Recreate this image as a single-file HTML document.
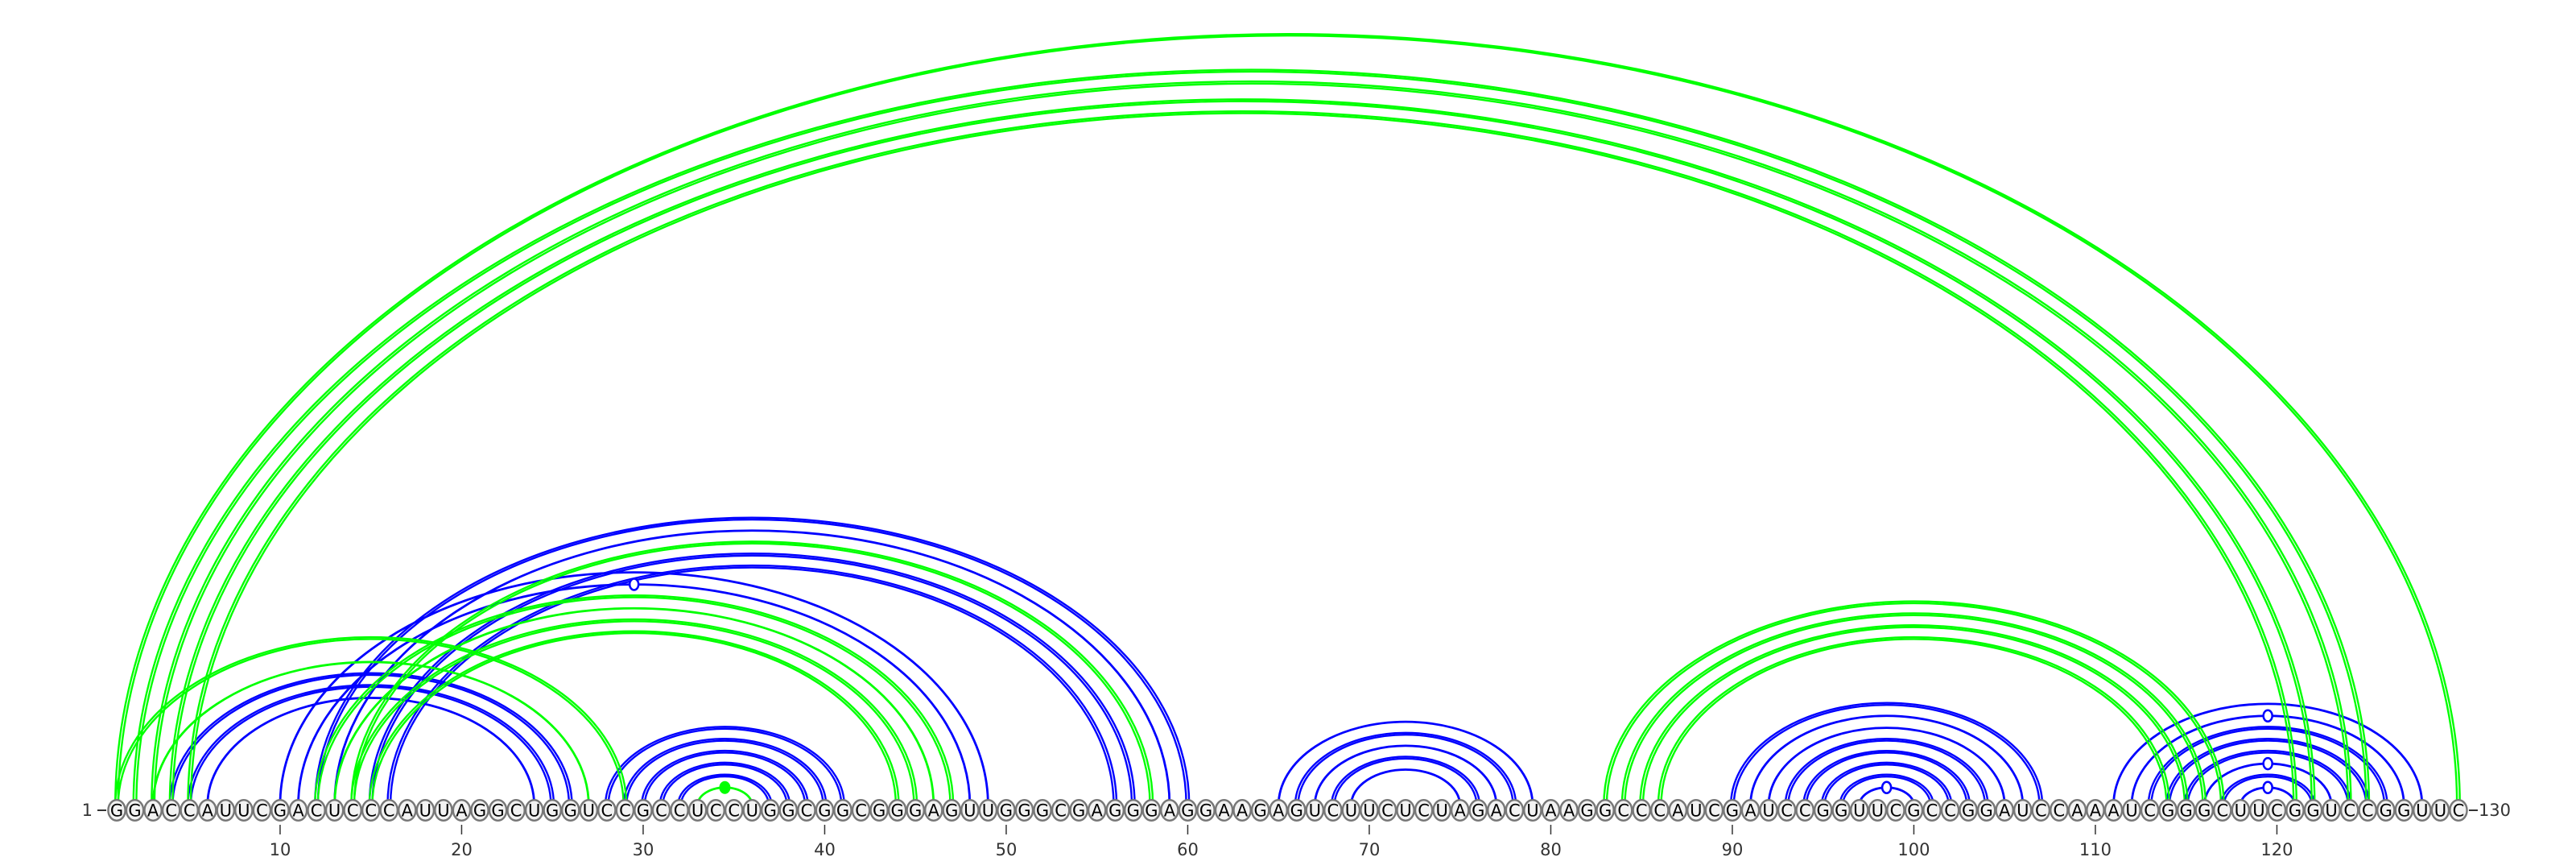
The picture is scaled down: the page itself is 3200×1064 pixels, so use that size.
<!DOCTYPE html>
<html><head><meta charset="utf-8"><title>RNA arc diagram</title>
<style>
html,body{margin:0;padding:0;background:#fff;}
svg{display:block;}
text{font-family:"DejaVu Sans","Liberation Sans",sans-serif;}
</style></head>
<body>
<svg id="chart" width="3200" height="1064" viewBox="0 0 3200 1064" xmlns="http://www.w3.org/2000/svg">
  <g id="arcs-blue"></g>
  <g id="arcs-green"></g>
  <g id="markers"></g>
  <g id="bases"></g>
  <g id="axis"></g>
</svg>
<script>
const sequence = "GGACCAUUCGACUCCCAUUAGGCUGGUCCGCCUCCUGGCGGCGGGAGUUGGGCGAGGGAGGAAGAGUCUUCUCUAGACUAAGGCCCAUCGAUCCGGUUCGCCGGAUCCAAAUCGGGCUUCGGUCCGGUUC";
const blueI = [4,5,6,10,11,12,13,15,16,28,29,30,31,32,65,66,67,68,69,90,91,92,93,94,95,96,97,111,112,113,114,115,116,117,118];
const blueJ = [26,25,24,49,48,60,59,57,56,41,40,39,38,37,79,78,77,76,75,107,106,105,104,103,102,101,100,128,127,126,125,124,123,122,121];
const blueDouble = [1,1,0,0,0,1,0,1,1,1,1,1,1,1,0,1,0,1,0,1,0,0,1,1,1,1,0,0,0,1,1,1,0,1,0];
const greenI = [1,2,3,4,5,1,3,12,13,14,14,15,83,84,85,86,33];
const greenJ = [130,125,124,122,121,29,27,47,46,45,58,44,117,116,115,114,36];
const greenDouble = [1,1,1,1,1,1,0,1,0,1,1,1,1,1,1,1,0];
const blueMarkerI = [11,97,112,116,118];
const blueMarkerJ = [48,100,127,123,121];
const greenMarkerI = [33];
const greenMarkerJ = [36];
const tickValues = [10,20,30,40,50,60,70,80,90,100,110,120];

const NS = "http://www.w3.org/2000/svg";
const X0 = 145, DX = 22.55, BASE = 1000, CY = 1006, RATIO = 0.658;
function xPos(i){ return X0 + (i-1)*DX; }
function arcPath(i,j,d){
  const a = xPos(i), b = xPos(j);
  const rx = (b-a)/2 + d, ry = rx*RATIO;
  return "M"+(a-d)+" "+BASE+" A"+rx+" "+ry+" 0 0 1 "+(b+d)+" "+BASE;
}
function mk(tag, attrs, parent){
  const el = document.createElementNS(NS, tag);
  for (const k in attrs) el.setAttribute(k, attrs[k]);
  parent.appendChild(el);
  return el;
}
function drawArcs(I, J, D, color, gid, nm){
  const g = document.getElementById(gid);
  for (let k=0;k<I.length;k++){
    const offs = D[k] ? [-1.8,1.8] : [0];
    for (const o of offs){
      const p = mk("path", {d:arcPath(I[k],J[k],o), fill:"none", stroke:color, "stroke-width":D[k]?2.4:2.8}, g);
      
      
    }
  }
}
drawArcs(blueI, blueJ, blueDouble, "#0000ff", "arcs-blue", "blue-pair-arc");
drawArcs(greenI, greenJ, greenDouble, "#00ff00", "arcs-green", "green-pair-arc");

const mg = document.getElementById("markers");
for (let k=0;k<blueMarkerI.length;k++){
  const a = xPos(blueMarkerI[k]), b = xPos(blueMarkerJ[k]);
  const cx=(a+b)/2, cy = BASE - (b-a)/2*RATIO;
  const e = mk("ellipse",{cx:cx,cy:cy,rx:5.5,ry:7,fill:"#fff",stroke:"#0000ff","stroke-width":2.5},mg);
  
  
}
for (let k=0;k<greenMarkerI.length;k++){
  const a = xPos(greenMarkerI[k]), b = xPos(greenMarkerJ[k]);
  const cx=(a+b)/2, cy = BASE - (b-a)/2*RATIO;
  const e = mk("ellipse",{cx:cx,cy:cy,rx:6.5,ry:7.5,fill:"#00ff00",stroke:"#00ff00","stroke-width":1},mg);
  
  
}

const bg = document.getElementById("bases");
for (let i=1;i<=sequence.length;i++){
  const x = xPos(i);
  const c = mk("ellipse",{cx:x,cy:CY,rx:10.6,ry:12.8,fill:"#f2f2f2",stroke:"#777","stroke-width":2.4},bg);
  
  
  const t = mk("text",{x:x,y:CY+7.5,"text-anchor":"middle","font-size":21,fill:"#000"},bg);
  t.textContent = sequence[i-1];
  
  
}

const ag = document.getElementById("axis");
const s1 = mk("text",{x:xPos(1)-30,y:CY+7,"text-anchor":"end","font-size":21,fill:"#333"},ag);
s1.textContent = "1";


const l1 = mk("line",{x1:xPos(1)-24,x2:xPos(1)-13,y1:CY,y2:CY,stroke:"#333","stroke-width":2},ag);


const l2 = mk("line",{x1:xPos(130)+13,x2:xPos(130)+24,y1:CY,y2:CY,stroke:"#333","stroke-width":2},ag);


const s2 = mk("text",{x:xPos(130)+25,y:CY+7,"text-anchor":"start","font-size":21,fill:"#333"},ag);
s2.textContent = "130";


for (const v of tickValues){
  const x = xPos(v);
  const tl = mk("line",{x1:x,x2:x,y1:1024,y2:1036,stroke:"#333","stroke-width":1.5},ag);
  
  
  const tt = mk("text",{x:x,y:1062,"text-anchor":"middle","font-size":21,fill:"#333"},ag);
  tt.textContent = String(v);
  
  
}
</script>
</body></html>
